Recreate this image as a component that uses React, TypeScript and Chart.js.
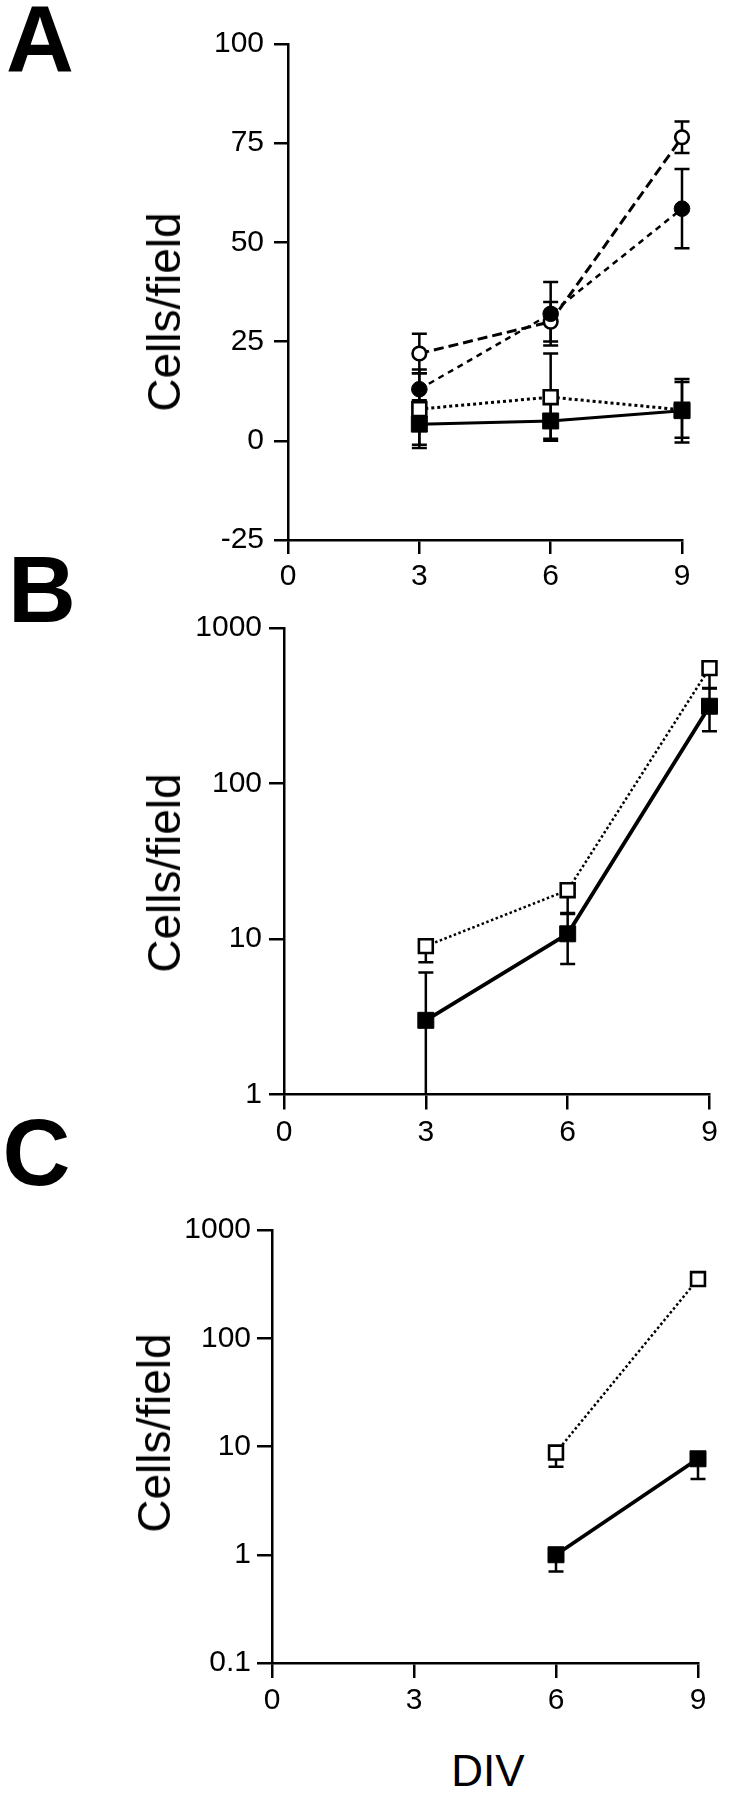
import React, { useEffect, useRef } from 'react';
import { Chart, registerables } from 'chart.js';

Chart.register(...registerables);

const FONT = "'Liberation Sans', Arial, Helvetica, sans-serif";

// ---------- data ----------
const divTicks = [0, 3, 6, 9];

// Panel A (linear) — symmetric error bars
const divA = [3, 6, 9];
const aFilledSquare = [4.2, 5, 7.6];
const aFilledSquareErr = [6, 4.5, 8];
const aOpenSquare = [8, 11, 7.8];
const aOpenSquareErr = [9, 11, 7];
const aOpenCircle = [22, 30, 76.5];
const aOpenCircleErr = [5, 5, 4];
const aFilledCircle = [13, 32, 58.5];
const aFilledCircleErr = [5, 8, 10];
const aYTicks = [-25, 0, 25, 50, 75, 100];

// Panel B (log)
const divB = [3, 6, 9];
const bFilledSquare = [3, 10.8, 314];
const bFilledSquareErr = [3.1, 3.9, 97];
const bOpenSquare = [9, 20.6, 552];
const bOpenSquareErrLow = [1.9, 6.1, 143];
const bYTicks = [1, 10, 100, 1000];

// Panel C (log) — only lower error bars shown
const divC = [6, 9];
const cFilledSquare = [1, 7.7];
const cFilledSquareErrLow = [0.3, 2.7];
const cOpenSquare = [8.8, 352];
const cOpenSquareErrLow = [2.3, 0];
const cYTicks = [0.1, 1, 10, 100, 1000];

const noErr = [0, 0, 0];

// ---------- helpers ----------
const toPts = (xs: number[], ys: number[]) => xs.map((x, i) => ({ x, y: ys[i] }));

type Kind = 'filledSquare' | 'openSquare' | 'openCircle' | 'filledCircle';

function makeDataset(
  kind: Kind,
  xs: number[],
  ys: number[],
  errLo: number[],
  errHi: number[],
  lineWidth: number,
  dash: number[]
) {
  const base: any = {
    data: toPts(xs, ys),
    errLo,
    errHi,
    borderColor: '#000',
    borderWidth: lineWidth,
    borderDash: dash,
    borderCapStyle: 'butt',
    fill: false,
    tension: 0,
    clip: false,
    pointBorderColor: '#000',
  };
  if (kind === 'filledSquare') {
    Object.assign(base, { pointStyle: 'rect', pointRadius: 11.3, pointBackgroundColor: '#000', pointBorderWidth: 1 });
  } else if (kind === 'openSquare') {
    Object.assign(base, { pointStyle: 'rect', pointRadius: 9.8, pointBackgroundColor: '#fff', pointBorderWidth: 2.6 });
  } else if (kind === 'openCircle') {
    Object.assign(base, { pointStyle: 'circle', pointRadius: 6.8, pointBackgroundColor: '#fff', pointBorderWidth: 2.6 });
  } else {
    Object.assign(base, { pointStyle: 'circle', pointRadius: 7.8, pointBackgroundColor: '#000', pointBorderWidth: 1 });
  }
  return base;
}

const errorBarPlugin = {
  id: 'errorBars',
  beforeDatasetsDraw(chart: any) {
    const ctx = chart.ctx;
    const yScale = chart.scales.y;
    const cap = 7.5;
    chart.data.datasets.forEach((ds: any, i: number) => {
      const lows: number[] = ds.errLo || [];
      const highs: number[] = ds.errHi || [];
      const meta = chart.getDatasetMeta(i);
      meta.data.forEach((pt: any, j: number) => {
        const eLo = lows[j] || 0;
        const eHi = highs[j] || 0;
        if (!eLo && !eHi) return;
        const v = ds.data[j].y;
        const x = pt.x;
        const yMid = yScale.getPixelForValue(v);
        ctx.save();
        ctx.strokeStyle = '#000';
        ctx.lineWidth = 2.5;
        ctx.setLineDash([]);
        ctx.beginPath();
        if (eHi) {
          const yHi = yScale.getPixelForValue(v + eHi);
          ctx.moveTo(x, yMid);
          ctx.lineTo(x, yHi);
          ctx.moveTo(x - cap, yHi);
          ctx.lineTo(x + cap, yHi);
        }
        if (eLo) {
          let lo = v - eLo;
          const clipped = lo <= yScale.min;
          if (clipped) lo = yScale.min;
          const yLo = yScale.getPixelForValue(lo);
          ctx.moveTo(x, yMid);
          ctx.lineTo(x, yLo);
          if (!clipped) {
            ctx.moveTo(x - cap, yLo);
            ctx.lineTo(x + cap, yLo);
          }
        }
        ctx.stroke();
        ctx.restore();
      });
    });
  },
};

interface PanelProps {
  top: number;
  W: number;
  H: number;
  area: { left: number; right: number; top: number; bottom: number };
  yType: 'linear' | 'logarithmic';
  yMin: number;
  yMax: number;
  yTicks: number[];
  tickLen: number;
  xPad: number;
  yPad: number;
  build: () => any[];
}

function Panel(props: PanelProps) {
  const ref = useRef<HTMLCanvasElement>(null);
  useEffect(() => {
    const { W, H, area, yType, yMin, yMax, yTicks, tickLen, xPad, yPad, build } = props;
    const font = { family: FONT, size: 30, lineHeight: 1 };
    const grid = {
      drawOnChartArea: false,
      drawTicks: true,
      tickLength: tickLen,
      tickWidth: 2.5,
      tickColor: '#000',
      color: '#000',
      lineWidth: 2.5,
    };
    const border = { display: true, color: '#000', width: 2.5 };
    const chart = new Chart(ref.current as HTMLCanvasElement, {
      type: 'line',
      data: { datasets: build() },
      options: {
        animation: false,
        responsive: false,
        maintainAspectRatio: false,
        events: [],
        layout: { padding: { left: 0, top: area.top, right: W - area.right, bottom: 0 } },
        plugins: { legend: { display: false }, tooltip: { enabled: false } },
        scales: {
          x: {
            type: 'linear',
            min: 0,
            max: 9,
            grid,
            border,
            ticks: { color: '#000', font, padding: xPad, maxRotation: 0, callback: (v: any) => String(v) },
            afterBuildTicks: (s: any) => {
              s.ticks = divTicks.map((v) => ({ value: v }));
            },
            afterFit: (s: any) => {
              s.height = H - area.bottom;
            },
          },
          y: {
            type: yType,
            min: yMin,
            max: yMax,
            grid,
            border,
            ticks: { color: '#000', font, padding: yPad, callback: (v: any) => String(v) },
            afterBuildTicks: (s: any) => {
              s.ticks = yTicks.map((v) => ({ value: v }));
            },
            afterFit: (s: any) => {
              s.width = area.left;
            },
          },
        },
      } as any,
      plugins: [errorBarPlugin],
    });
    return () => chart.destroy();
  }, []);
  return (
    <canvas
      ref={ref}
      width={props.W}
      height={props.H}
      style={{ position: 'absolute', left: 0, top: props.top, width: props.W, height: props.H, display: 'block' }}
    />
  );
}

const letterStyle = (left: number, top: number): React.CSSProperties => ({
  position: 'absolute',
  left,
  top,
  font: `bold 94px/1 ${FONT}`,
  color: '#000',
  whiteSpace: 'nowrap',
  margin: 0,
});

const titleStyle = (cx: number, cy: number): React.CSSProperties => ({
  position: 'absolute',
  left: cx,
  top: cy,
  transform: 'translate(-50%, -50%) rotate(-90deg)',
  font: `46px/1 ${FONT}`,
  color: '#000',
  whiteSpace: 'nowrap',
});

export default function App() {
  return (
    <div style={{ position: 'absolute', left: 0, top: 0, width: 732, height: 1800, background: '#fff', overflow: 'hidden' }}>
      <Panel
        top={0}
        W={732}
        H={600}
        area={{ left: 288, right: 682, top: 44, bottom: 540 }}
        yType="linear"
        yMin={-25}
        yMax={100}
        yTicks={aYTicks}
        tickLen={14}
        xPad={8}
        yPad={10}
        build={() => [
          makeDataset('filledSquare', divA, aFilledSquare, aFilledSquareErr, aFilledSquareErr, 3, []),
          makeDataset('filledCircle', divA, aFilledCircle, aFilledCircleErr, aFilledCircleErr, 2.5, [6, 5]),
          makeDataset('openCircle', divA, aOpenCircle, aOpenCircleErr, aOpenCircleErr, 3, [10, 5]),
          makeDataset('openSquare', divA, aOpenSquare, aOpenSquareErr, aOpenSquareErr, 3, [3, 3]),
        ]}
      />
      <Panel
        top={600}
        W={732}
        H={560}
        area={{ left: 284, right: 709.5, top: 28, bottom: 494.5 }}
        yType="logarithmic"
        yMin={1}
        yMax={1000}
        yTicks={bYTicks}
        tickLen={15}
        xPad={8.5}
        yPad={7}
        build={() => [
          makeDataset('filledSquare', divB, bFilledSquare, bFilledSquareErr, bFilledSquareErr, 3.8, []),
          makeDataset('openSquare', divB, bOpenSquare, bOpenSquareErrLow, noErr, 2.5, [2.5, 2.5]),
        ]}
      />
      <Panel
        top={1160}
        W={732}
        H={560}
        area={{ left: 272, right: 698, top: 70, bottom: 503 }}
        yType="logarithmic"
        yMin={0.1}
        yMax={1000}
        yTicks={cYTicks}
        tickLen={15}
        xPad={8}
        yPad={6}
        build={() => [
          makeDataset('filledSquare', divC, cFilledSquare, cFilledSquareErrLow, noErr, 3.8, []),
          makeDataset('openSquare', divC, cOpenSquare, cOpenSquareErrLow, noErr, 2.5, [2.5, 2.5]),
        ]}
      />
      <div style={letterStyle(6, -6.6)}>A</div>
      <div style={letterStyle(8, 543.4)}>B</div>
      <div style={letterStyle(2.5, 1106.4)}>C</div>
      <div style={titleStyle(163.5, 311.5)}>Cells/field</div>
      <div style={titleStyle(163.5, 873)}>Cells/field</div>
      <div style={titleStyle(154, 1433)}>Cells/field</div>
      <div
        style={{
          position: 'absolute',
          left: 488,
          top: 1748.8,
          transform: 'translateX(-50%)',
          font: `44px/1 ${FONT}`,
          color: '#000',
          whiteSpace: 'nowrap',
        }}
      >
        DIV
      </div>
    </div>
  );
}
